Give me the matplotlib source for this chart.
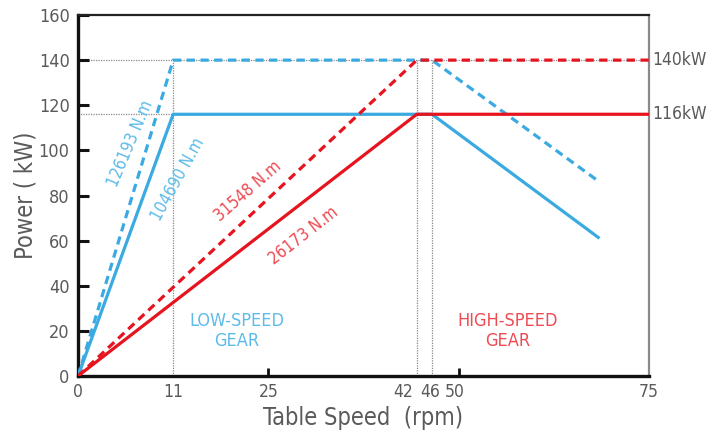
import matplotlib
matplotlib.use("Agg")
import matplotlib.pyplot as plt

# ---- data ----
low_x = [0, 12.5, 46.5, 68.5]
low_solid_y = [0, 116, 116, 61]
low_dash_y = [0, 140, 140, 86]
high_x = [0, 44.5, 75]
high_solid_y = [0, 116, 116]
high_dash_y = [0, 140, 140]
guide_x = [12.5, 44.5, 46.5]
guide_y = [116, 140]
xtick_pos = [0, 12.5, 25.1, 42.7, 46.2, 49.5, 75]
xtick_labels = ["0", "11", "25", "42", "46", "50", "75"]
xmajor = [25, 50]
yticks = [0, 20, 40, 60, 80, 100, 120, 140, 160]
right_labels = ["140kW", "116kW"]
torque_labels = ["126193 N.m", "104690 N.m", "31548 N.m", "26173 N.m"]

BLUE = "#3aaae1"
RED = "#e6141e"
BLUE_T = "#5cbbe8"
RED_T = "#ee4a52"
GRAY = "#5a5a5a"

plt.rcParams['font.family'] = ['DejaVu Sans']
plt.rcParams['font.stretch'] = 'condensed'

fig = plt.figure(figsize=(7.06, 4.40), dpi=100)
ax = fig.add_axes([78/706, 1-376/440, (649-78)/706, (376-15)/440])
ax.set_xlim(0, 75)
ax.set_ylim(0, 160)

# guides
dot = dict(color="#8a8a8a", lw=0.9, ls=(0, (1, 1)), zorder=1)
ax.plot([0, 75], [guide_y[1], guide_y[1]], **dot)
ax.plot([0, guide_x[0]], [guide_y[0], guide_y[0]], **dot)
for gx in guide_x:
    ax.plot([gx, gx], [0, guide_y[1]], **dot)

lw = 2.3
ax.plot(low_x, low_solid_y, color=BLUE, lw=lw, zorder=3, solid_capstyle='butt')
ax.plot(low_x, low_dash_y, color=BLUE, lw=lw, dashes=(2.6, 1.7), zorder=3)
ax.plot(high_x, high_solid_y, color=RED, lw=lw, zorder=4, solid_capstyle='butt')
ax.plot(high_x, high_dash_y, color=RED, lw=lw, dashes=(2.6, 1.7), zorder=4)

# spines
for s in ['left', 'bottom']:
    ax.spines[s].set_linewidth(2.4)
    ax.spines[s].set_color('#111111')
ax.spines['top'].set_linewidth(1.6)
ax.spines['top'].set_color('#222222')
ax.spines['right'].set_linewidth(1.6)
ax.spines['right'].set_color('#8a8a8a')

ax.set_yticks(yticks)
ax.set_yticklabels([str(v) for v in yticks])
ax.tick_params(axis='y', direction='in', length=8, width=2.2, color='#111111',
               labelsize=13, labelcolor=GRAY, pad=6)
ax.set_xticks(xtick_pos)
ax.set_xticklabels(xtick_labels)
ax.tick_params(axis='x', which='major', length=0, labelsize=12.5, labelcolor=GRAY, pad=5)
ax.set_xticks(xmajor, minor=True)
ax.tick_params(axis='x', which='minor', direction='in', length=6, width=2.0, color='#111111')

ax.set_ylabel("Power ( kW)", fontsize=17, color=GRAY, labelpad=1)
ax.set_xlabel("Table Speed  (rpm)", fontsize=17, color=GRAY, labelpad=4)

# right labels
ax.text(1.005, guide_y[1]/160, right_labels[0], transform=ax.transAxes, fontsize=12.5,
        color=GRAY, va='center', ha='left')
ax.text(1.005, guide_y[0]/160, right_labels[1], transform=ax.transAxes, fontsize=12.5,
        color=GRAY, va='center', ha='left')

# torque annotations
ax.text(6.9, 103, torque_labels[0], color=BLUE_T, fontsize=12, rotation=67,
        ha='center', va='center', rotation_mode='anchor')
ax.text(13.1, 87, torque_labels[1], color=BLUE_T, fontsize=12, rotation=61,
        ha='center', va='center', rotation_mode='anchor')
ax.text(22.3, 82, torque_labels[2], color=RED_T, fontsize=12, rotation=41,
        ha='center', va='center', rotation_mode='anchor')
ax.text(29.6, 62, torque_labels[3], color=RED_T, fontsize=12, rotation=38,
        ha='center', va='center', rotation_mode='anchor')

ax.text(20.9, 20, "LOW-SPEED\nGEAR", color=BLUE_T, fontsize=13, ha='center',
        va='center', linespacing=1.15)
ax.text(56.4, 20, "HIGH-SPEED\nGEAR", color=RED_T, fontsize=13, ha='center',
        va='center', linespacing=1.15)

fig.savefig("out.png", dpi=100)
